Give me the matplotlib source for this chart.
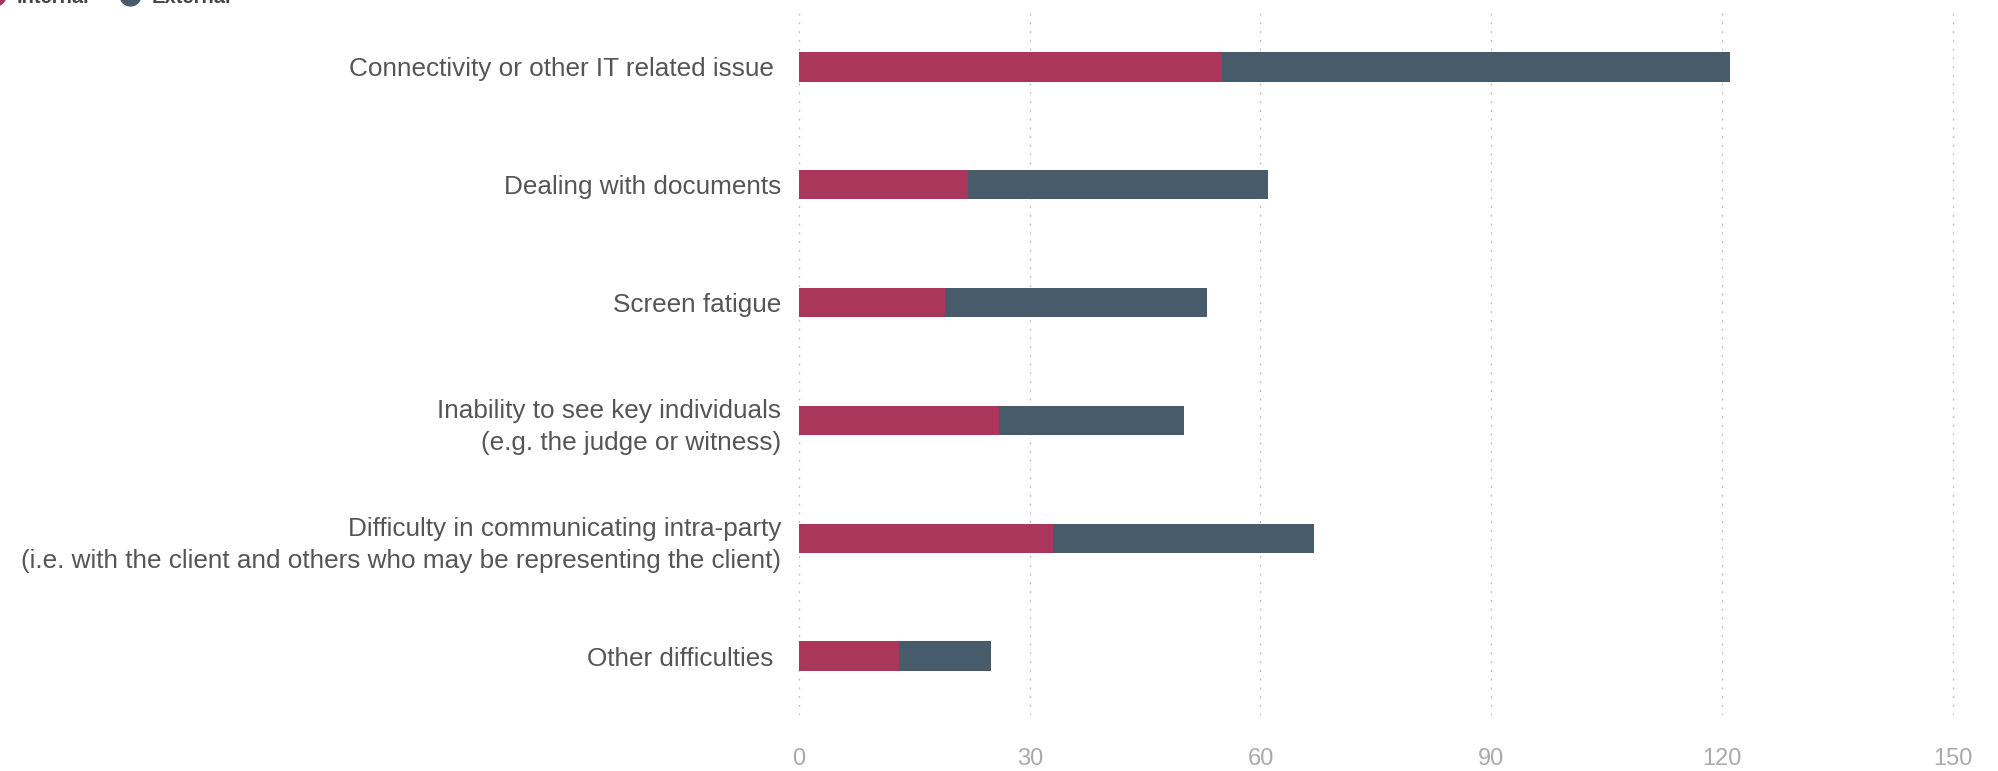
import matplotlib.pyplot as plt
from matplotlib.lines import Line2D

# Data
categories = [
    "Connectivity or other IT related issue ",
    "Dealing with documents",
    "Screen fatigue",
    "Inability to see key individuals\n(e.g. the judge or witness)",
    "Difficulty in communicating intra-party\n(i.e. with the client and others who may be representing the client)",
    "Other difficulties ",
]
internal = [55, 22, 19, 26, 33, 13]
external = [66, 39, 34, 24, 34, 12]
series_names = ["Internal", "External"]
series_colors = ["#AB365C", "#475B6B"]
x_ticks = [0, 30, 60, 90, 120, 150]

plt.rcParams['font.family'] = ['Liberation Sans', 'DejaVu Sans']

fig = plt.figure(figsize=(19.98, 7.71), dpi=100)
ax = fig.add_axes([0.398, 0.0726, 0.5812, 0.917])

ypos = list(range(len(categories)))
ax.barh(ypos, internal, height=0.25, color=series_colors[0], zorder=3)
ax.barh(ypos, external, left=internal, height=0.25, color=series_colors[1], zorder=3)

# a little room either side so the 0 and 150 grid lines are not clipped
ax.set_xlim(-0.5, 150.5)
ax.set_ylim(5.5, -0.5)
ax.set_xticks(x_ticks)
ax.set_xticklabels([str(t) for t in x_ticks])
ax.set_yticks(ypos)
ax.set_yticklabels(categories, linespacing=1.42)

ax.grid(axis='x', color='#bdbdbd', linewidth=0.9, linestyle=(0, (1.5, 5.5)), zorder=0)
ax.grid(axis='y', visible=False)
for s in ax.spines.values():
    s.set_visible(False)
ax.tick_params(axis='y', length=0, pad=10.3, labelsize=18.8, labelcolor='#555555')
ax.tick_params(axis='x', length=0, pad=24, labelsize=17, labelcolor='#aaaaaa')

# legend at the very top, partly cut off like the original
W, H = 1998.0, 771.0
legend_items = [(-5, 17), (130, 152)]
for (cx, tx), name, col in zip(legend_items, series_names, series_colors):
    fig.add_artist(Line2D([cx / W], [1 + 5.5 / H], marker='o', markersize=15,
                          color=col, linestyle='none', transform=fig.transFigure,
                          clip_on=False))
    fig.text(tx / W, 1 - 3.3 / H, name, fontsize=14.5, fontweight='bold',
             color='#444444', va='baseline', ha='left')

fig.savefig("out.png", dpi=100)
plt.close(fig)
